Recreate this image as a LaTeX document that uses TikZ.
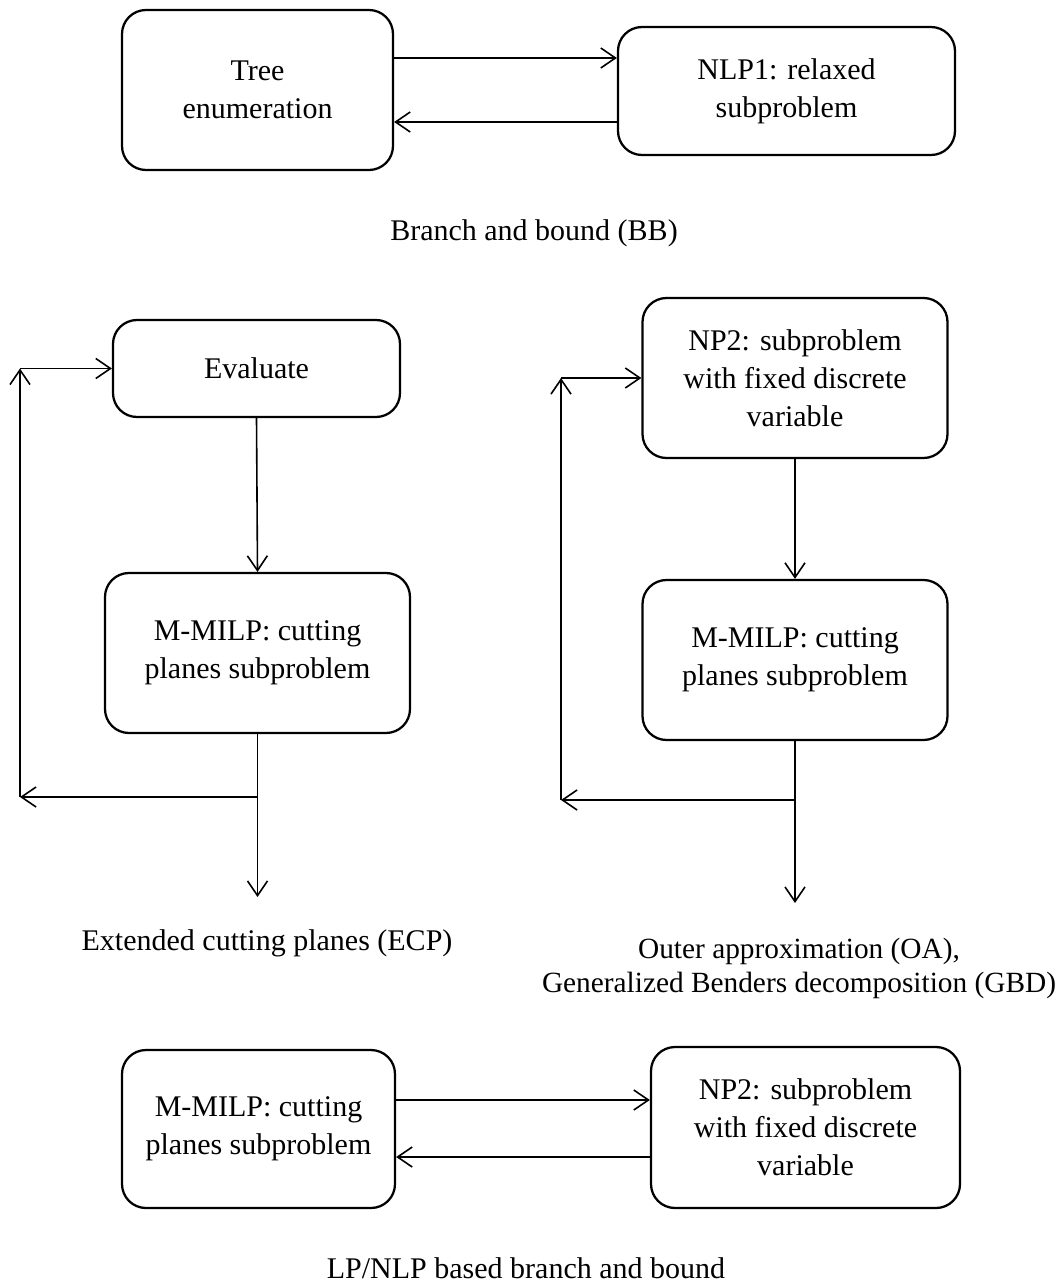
\documentclass[tikz,border=0pt]{standalone}
\usepackage{fontspec}
\setmainfont{Liberation Serif}
\usetikzlibrary{arrows.meta}

\begin{document}
\begin{tikzpicture}[x=0.75pt,y=-0.75pt,
  font=\fontsize{22.5}{28.5}\selectfont,
  box/.style={draw,line width=1.7pt,rounded corners=18pt,align=center,inner sep=0pt},
  arr/.style={line width=1.2pt,-{Straight Barb[length=11pt,width=15pt]}},
  captxt/.style={anchor=base,inner sep=0pt}]
\useasboundingbox (0,0) rectangle (1060,1284);
% top: branch and bound
\node[box,minimum width=203.25pt,minimum height=120pt] (tree) at (257.5,90) {Tree\\enumeration};
\node[box,minimum width=252.75pt,minimum height=96pt] (nlp) at (786.5,91) {NLP1: relaxed\\subproblem};
\draw[arr] (tree.east |- 0,58) -- (nlp.west |- 0,58);
\draw[arr] (nlp.west |- 0,122) -- (tree.east |- 0,122);
\node[captxt] (bbcap) at (534,240) {Branch and bound (BB)};
% middle left: extended cutting planes
\node[box,minimum width=215.25pt,minimum height=72.75pt] (eval) at (256.5,368.5) {Evaluate};
\node[box,minimum width=228.75pt,minimum height=120pt] (milpA) at (257.5,653) {M-MILP: cutting\\planes subproblem};
\coordinate (ecpend) at (257.5,897);
\coordinate (lpA) at (20,797);
\coordinate (lpB) at (20,368.5);
\draw[arr] (eval.south) -- (milpA.north);
\draw[arr] (milpA.south) -- (ecpend);
\draw[arr] (milpA.south |- lpA) -- (lpA);
\draw[arr] (lpA) -- (lpB);
\draw[arr] (lpB) -- (eval.west);
\node[captxt] (ecpcap) at (267,950) {Extended cutting planes (ECP)};
% middle right: outer approximation / GBD
\node[box,minimum width=228.75pt,minimum height=120pt] (nptwo) at (795,378) {NP2: subproblem\\with fixed discrete\\variable};
\node[box,minimum width=228.75pt,minimum height=120pt] (milpB) at (795,660) {M-MILP: cutting\\planes subproblem};
\coordinate (oaend) at (795,903);
\coordinate (rpA) at (561,800);
\coordinate (rpB) at (561,378);
\draw[arr] (nptwo.south) -- (milpB.north);
\draw[arr] (milpB.south) -- (oaend);
\draw[arr] (milpB.south |- rpA) -- (rpA);
\draw[arr] (rpA) -- (rpB);
\draw[arr] (rpB) -- (nptwo.west);
\node[align=center,inner sep=0pt,font=\fontsize{22}{25.5}\selectfont] (oacap) at (799,968) {Outer approximation (OA),\\Generalized Benders decomposition (GBD)};
% bottom: LP/NLP based branch and bound
\node[box,minimum width=204.75pt,minimum height=118.5pt] (milpC) at (258.5,1129) {M-MILP: cutting\\planes subproblem};
\node[box,minimum width=231.75pt,minimum height=120.75pt] (nptwoC) at (805.5,1127.5) {NP2: subproblem\\with fixed discrete\\variable};
\draw[arr] (milpC.east |- 0,1100) -- (nptwoC.west |- 0,1100);
\draw[arr] (nptwoC.west |- 0,1157) -- (milpC.east |- 0,1157);
\node[captxt] (lpcap) at (526,1278) {LP/NLP based branch and bound};
\end{tikzpicture}
\end{document}
